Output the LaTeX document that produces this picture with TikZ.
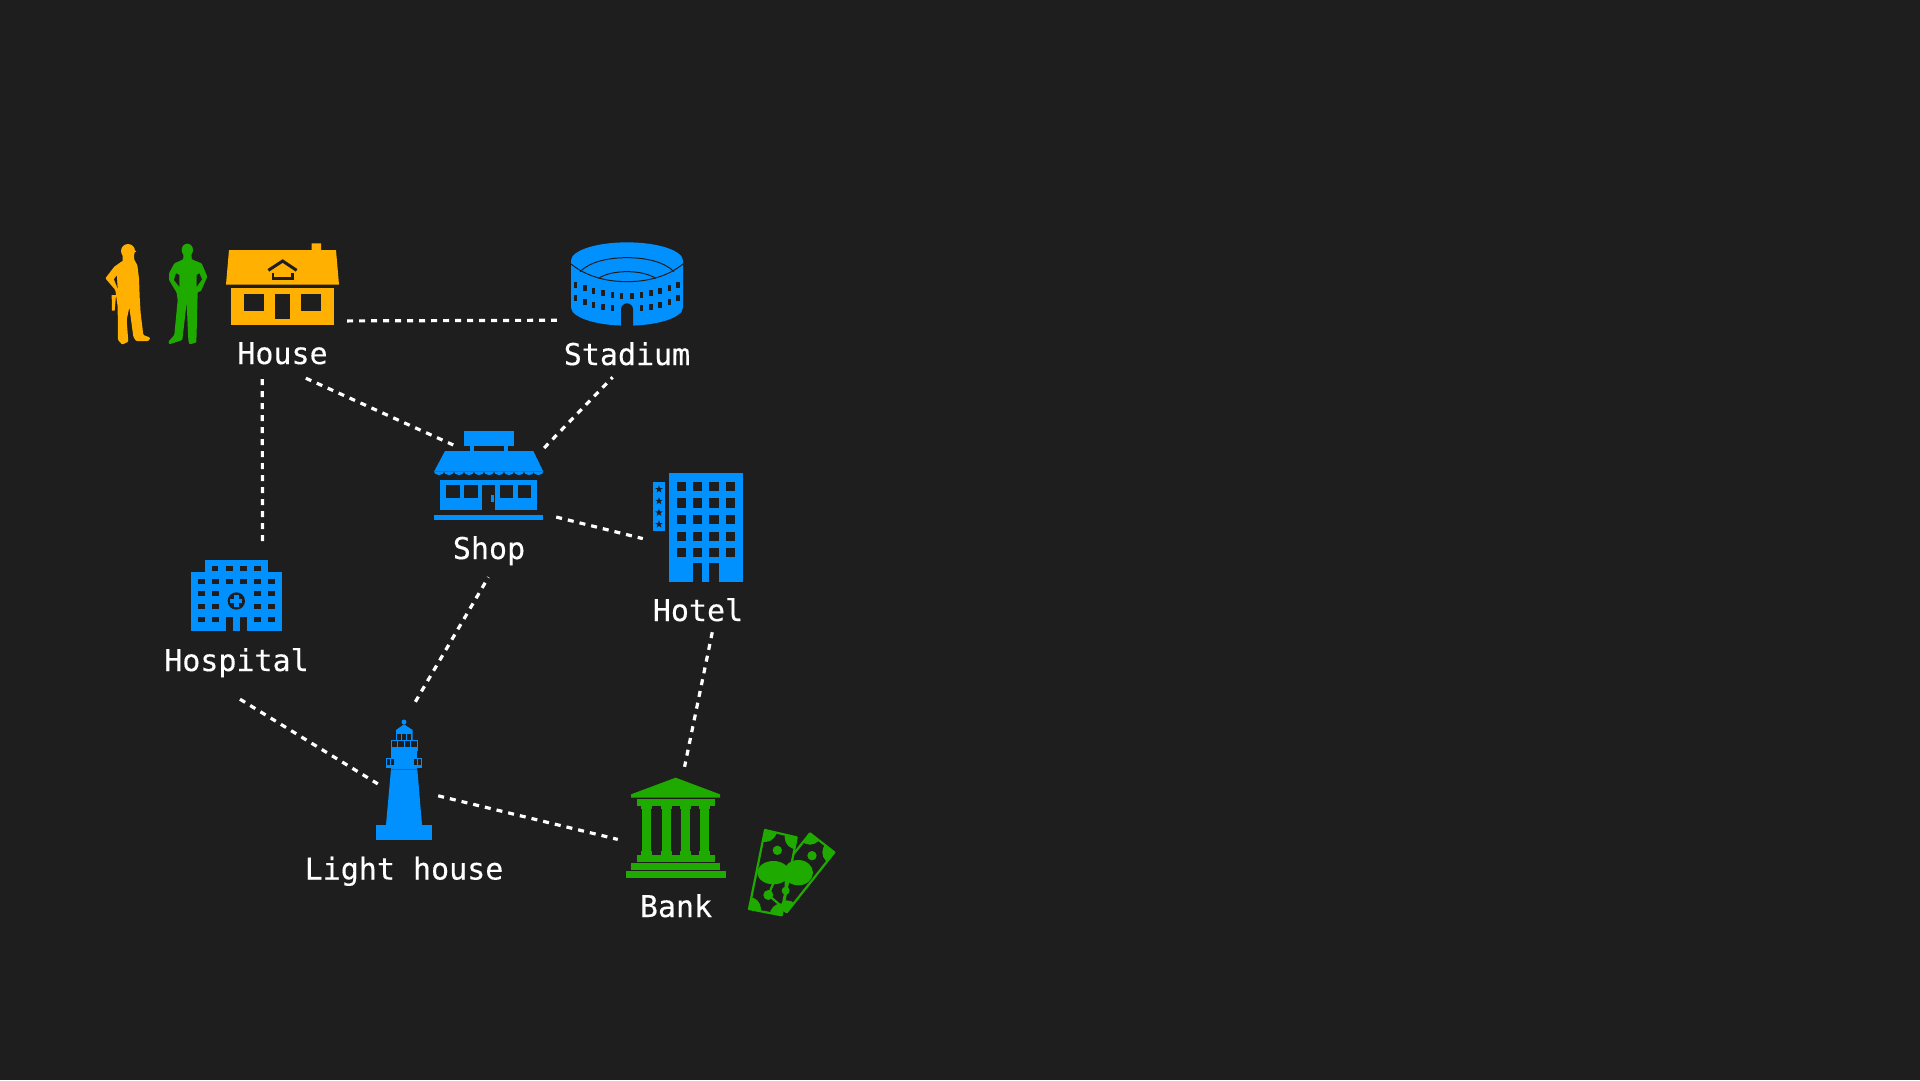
\documentclass[tikz,border=0pt]{standalone}
\usepackage{fontspec}
\setmonofont[FakeBold=0.3]{DejaVu Sans Mono}
\definecolor{backdrop}{HTML}{1E1E1E}
\definecolor{skyblue}{HTML}{0091FF}
\definecolor{amber}{HTML}{FFB000}
\definecolor{leaf}{HTML}{1FAA00}

\begin{document}
\begin{tikzpicture}[
  x=1pt,y=-1pt,
  place/.style={rectangle,inner sep=0pt,minimum width=#1},
  place/.default=10pt,
  title/.style={anchor=base,text=white,inner sep=0pt,font=\ttfamily\fontsize{30}{36}\selectfont},
  link/.style={white,line width=3.2pt,dash pattern=on 6pt off 6pt},
  hole/.style={fill=backdrop}
]

\fill[backdrop] (0,0) rectangle (1920,1080);

% places, invisible boxes that the links end on
\node[place=122pt,minimum height=138pt] (house) at (286,309) {};
\node[place=133pt,minimum height=137pt] (stadium) at (623.5,308.5) {};
\node[place=126pt,minimum height=131pt] (shop) at (493,511.5) {};
\node[place=107pt,minimum height=162pt] (hotel) at (696.5,551) {};
\node[place=140pt,minimum height=157pt] (hospital) at (240,620.5) {};
\node[place=60pt,minimum height=168pt] (lighthouse) at (408,786) {};
\node[place=112pt,minimum height=133pt] (bank) at (674,833.5) {};

\node[title] (houselabel) at (282.5,364) {House};
\node[title] (stadiumlabel) at (627,365) {Stadium};
\node[title] (shoplabel) at (489,559) {Shop};
\node[title] (hotellabel) at (698,621) {Hotel};
\node[title] (hospitallabel) at (236.5,671) {Hospital};
\node[title] (lighthouselabel) at (404,879.5) {Light house};
\node[title] (banklabel) at (676,917) {Bank};

\draw[link] (house.-11.1) -- (stadium.190.6);
\draw[link,shorten <=1pt] (house.-109.2) -- (hospital.74.3);
\draw[link,shorten >=2pt] (house.-74.7) -- (shop.120.8);
\draw[link,shorten <=-3pt] (shop.51.4) -- (stadium.261.5);
\draw[link] (shop.-5) -- (hotel.167.4);
\draw[link] (lighthouse.85.2) -- (shop.-94.1);
\draw[link] (hotel.-79.85) -- (bank.81.45);
\draw[link] (hospital.south) -- (lighthouse.176.2);
\draw[link] (lighthouse.-18.4) -- (bank.186.6);

% workers and house
\begin{scope}[shift={(90,220)},scale=1/3]
\fill[amber] (114,93) circle (21);
\fill[amber] (120,76) -- (139,95) -- (120,100) -- cycle;
\fill[amber] (98,100) -- (132,100) -- (133,122) -- (98,130) -- cycle;
\fill[amber,rounded corners=1pt] (97,123) -- (132,118) -- (142,135) -- (147,175) -- (149,230) -- (152,280) -- (160,345)
  -- (181,353) -- (176,363) -- (138,363) -- (130,350) -- (118,262) -- (110,300) -- (115,365)
  -- (97,374) -- (84,360) -- (83,260) -- (76,210) -- (46,175) -- (73,140) -- cycle;
\fill[amber] (65,225) -- (78,225) -- (74,272) -- (66,272) -- cycle;
\fill[hole] (72,178) -- (80,167) -- (83,205) -- cycle;

\fill[leaf] (292,90) ellipse (17 and 19);
\fill[leaf,rounded corners=1pt] (280,95) -- (304,95) -- (305,118) -- (335,130) -- (352,170) -- (332,215) -- (323,215)
  -- (321,300) -- (319,368) -- (298,373) -- (295,360) -- (290,248) -- (277,360) -- (238,373)
  -- (235,365) -- (253,345) -- (263,240) -- (260,218) -- (237,180) -- (237,160) -- (253,130) -- (280,118) -- cycle;
\fill[hole] (258,160) -- (252,180) -- (268,200) -- (268,165) -- cycle;
\fill[hole] (328,160) -- (336,178) -- (320,200) -- (320,165) -- cycle;

\fill[amber] (417,90) -- (665,90) -- (665,70) -- (693,70) -- (693,90) -- (738,90) -- (747,194) -- (408,194) -- cycle;
\fill[amber] (423,204) rectangle (733,315);
\fill[hole] (462,222) rectangle (522,272);
\fill[hole] (633,222) rectangle (693,272);
\fill[hole] (555,222) rectangle (600,296);
\draw[backdrop,line width=3pt] (535,151) -- (578,123) -- (620,151);
\draw[backdrop,line width=2.6pt] (549,158) -- (549,176) -- (607,176) -- (607,158);
\end{scope}

% stadium
\begin{scope}[shift={(550,220)},scale=1/3]
\fill[skyblue] (63,122) arc (180:360:168 and 55) -- (399,262) arc (0:180:168 and 55) -- cycle;
\draw[backdrop,line width=1pt] (63,132) .. controls (110,170) and (170,185) .. (231,185)
  .. controls (292,185) and (352,170) .. (399,132);
\draw[backdrop,line width=1pt] (90,155) .. controls (120,125) and (175,113) .. (231,113)
  .. controls (287,113) and (342,125) .. (372,155);
\draw[backdrop,line width=1pt] (145,175) .. controls (170,160) and (200,155) .. (231,155)
  .. controls (262,155) and (292,160) .. (318,175);
\foreach \x/\y in {77/195,105/205,131/214,159/220,187/225,215/227,246/227,275/225,303/220,330/214,358/205,384/195}
  \fill[hole] (\x-5,\y-9) rectangle (\x+5,\y+9);
\foreach \x/\y in {77/235,105/245,131/254,159/261,187/265,275/265,303/261,330/254,358/245,384/235}
  \fill[hole] (\x-5,\y-9) rectangle (\x+5,\y+9);
\fill[hole] (213,320) -- (213,268) arc (180:360:18) -- (249,320) -- cycle;
\end{scope}

% shop and hotel
\begin{scope}[shift={(420,420)},scale=1/3]
\fill[skyblue] (132,33) rectangle (282,78);
\fill[skyblue] (150,78) rectangle (162,95);
\fill[skyblue] (252,78) rectangle (264,95);
\fill[skyblue] (75,93) -- (340,93) -- (370,155) -- (42,155) -- cycle;
\foreach \x in {42,72,102,132,162,192,222,252,282,312,340}
  \fill[skyblue] (\x,155) arc (180:0:15 and 10) -- cycle;
\fill[skyblue] (60,180) rectangle (351,270);
\fill[hole] (187,195) rectangle (225,270);
\fill[skyblue] (213,225) rectangle (222,246);
\foreach \x/\w in {78/42,132/42,240/39,294/39}
  \fill[hole] (\x,195) rectangle (\x+\w,234);
\fill[skyblue] (42,285) rectangle (369,300);

\fill[skyblue] (747,160) rectangle (969,486);
\foreach \x in {771,819,868,918}
  \foreach \y in {186,235,285,335,384}
    \fill[hole] (\x,\y) rectangle (\x+28,\y+28);
\fill[hole] (819,429) rectangle (847,486);
\fill[hole] (868,429) rectangle (897,486);
\fill[skyblue] (699,186) rectangle (735,333);
\foreach \y in {208,243,278,313}
  \fill[hole] (717,\y) +(-90:12) -- +(54:12) -- +(198:12) -- +(342:12) -- +(126:12) -- cycle;
\end{scope}

% hospital
\begin{scope}[shift={(170,550)},scale=1/3]
\fill[skyblue] (105,30) rectangle (295,66);
\fill[skyblue] (63,66) rectangle (336,243);
\foreach \x in {125,168,210,252}
  \fill[hole] (\x,48) rectangle (\x+20,64);
\foreach \x in {84,126,168,210,252,294}
  \fill[hole] (\x,86) rectangle (\x+21,102);
\foreach \x in {84,126,252,294}
  \foreach \y in {123,162,200}
    \fill[hole] (\x,\y) rectangle (\x+21,\y+16);
\fill[hole] (168,200) rectangle (232,243);
\fill[skyblue] (190,200) rectangle (210,243);
\fill[hole] (199,153) circle (26);
\fill[skyblue] (192,135) rectangle (206,171);
\fill[skyblue] (181,146) rectangle (217,160);
\end{scope}

% lighthouse
\begin{scope}[shift={(360,710)},scale=1/3]
\fill[skyblue] (48,345) rectangle (216,390);
\fill[skyblue] (93,178) -- (172,178) -- (186,345) -- (78,345) -- cycle;
\fill[skyblue] (93,122) rectangle (172,178);
\fill[skyblue] (78,143) rectangle (106,175);
\fill[skyblue] (160,143) rectangle (186,175);
\fill[hole] (82,148) rectangle (91,165);
\fill[hole] (94,148) rectangle (103,165);
\fill[hole] (163,148) rectangle (172,165);
\fill[hole] (175,148) rectangle (183,165);
\fill[skyblue] (93,90) rectangle (174,122);
\foreach \x/\w in {97/15,115/16,134/16,153/17}
  \fill[hole] (\x,93) rectangle (\x+\w,110);
\fill[skyblue] (108,60) -- (132,43) -- (158,60) -- (158,90) -- (108,90) -- cycle;
\foreach \x in {112,127,142}
  \fill[hole] (\x,72) rectangle (\x+12,90);
\fill[skyblue] (132,36) circle (7.5);
\end{scope}

% bank and money
\begin{scope}[shift={(610,760)},scale=1/3]
\fill[leaf] (63,103) -- (197,53) -- (330,103) -- (330,113) -- (63,113) -- cycle;
\fill[leaf] (80,118) rectangle (315,137);
\foreach \x in {109,169,226,284} {
  \fill[leaf] (\x-17,137) rectangle (\x+17,147);
  \fill[leaf] (\x-14,147) rectangle (\x+14,272);
  \fill[leaf] (\x-17,272) rectangle (\x+17,285);
}
\fill[leaf] (80,285) rectangle (315,305);
\fill[leaf] (63,310) rectangle (330,330);
\fill[leaf] (47,333) rectangle (348,354);

\begin{scope}
\clip (600,220) -- (673,277) -- (530,457) -- (457,400) -- cycle;
\fill[leaf] (600,220) circle (34);
\fill[leaf] (673,277) circle (36);
\fill[leaf] (530,457) circle (36);
\end{scope}
\draw[leaf,line width=2.2pt,line join=round] (600,220) -- (673,277) -- (530,457) -- (457,400) -- cycle;
\fill[hole] (465,210) -- (560,232) -- (515,466) -- (417,447) -- cycle;
\begin{scope}
\clip (465,210) -- (560,232) -- (515,466) -- (417,447) -- cycle;
\fill[leaf] (465,210) circle (36);
\fill[leaf] (560,232) circle (36);
\fill[leaf] (515,466) circle (36);
\fill[leaf] (417,447) circle (36);
\end{scope}
\draw[leaf,line width=2.2pt,line join=round] (465,210) -- (560,232) -- (515,466) -- (417,447) -- cycle;
\fill[leaf] (565,338) ellipse (44 and 38);
\fill[leaf] (490,338) ellipse (48 and 35);
\fill[leaf] (502,271) circle (14);
\fill[leaf] (606,287) circle (14);
\fill[leaf] (475,405) circle (15);
\fill[leaf] (527,392) circle (12);
\draw[leaf,line width=2.2pt] (490,370) -- (475,405) -- (510,435);
\draw[leaf,line width=2.2pt] (527,360) -- (527,392) -- (515,450);
\end{scope}

\end{tikzpicture}
\end{document}
